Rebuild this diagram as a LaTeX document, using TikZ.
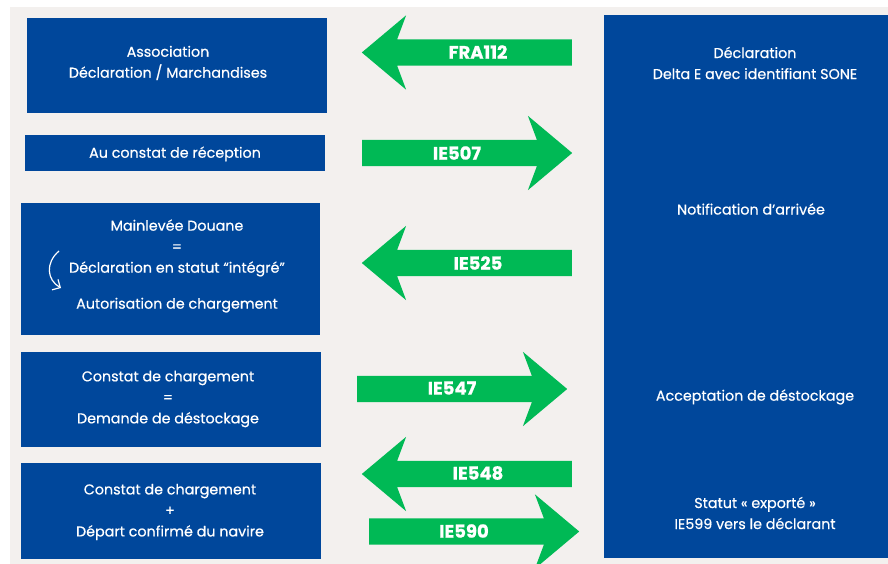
\documentclass[tikz,border=0pt]{standalone}
\usepackage{fontspec}
\setmainfont{Poppins}
\newfontfamily\medfont[FakeBold=0.5]{Poppins}
\newfontfamily\lblfont[BoldFeatures={FakeBold=0.8}]{Poppins}
\usetikzlibrary{shapes.arrows,arrows.meta}
\definecolor{douaneblue}{RGB}{0,71,155}
\definecolor{msggreen}{RGB}{0,185,85}
\definecolor{fond}{RGB}{243,240,238}
\tikzset{
  box/.style={fill=douaneblue, inner sep=0pt},
  boxtext/.style={text=white, align=center, inner sep=0pt,
    font=\medfont\fontsize{14.3}{21}\selectfont},
  msg/.style={single arrow, fill=msggreen, inner xsep=0pt, inner ysep=13pt,
    minimum height=210pt,
    single arrow head extend=24pt, single arrow tip angle=80,
    single arrow head indent=9pt, anchor=tail},
  msgleft/.style={msg, shape border rotate=180},
  msglabel/.style={text=white, inner sep=0pt,
    font=\lblfont\fontsize{18}{18}\selectfont\bfseries}
}
\begin{document}
\begin{tikzpicture}[x=1pt,y=-1pt]
	\clip (0,0) rectangle (888,564);
	\fill[white] (0,0) rectangle (888,564);
	\fill[fond] (10,7) rectangle (888,564);

	% cote operateur
	\node[box, minimum width=300pt, minimum height=95pt] (assoc) at (177,65.5) {};
	\node[box, minimum width=300pt, minimum height=36pt] (recep) at (175,153) {};
	\node[box, minimum width=299pt, minimum height=132pt] (mainlevee) at (170.5,269) {};
	\node[box, minimum width=300pt, minimum height=95pt] (charg) at (171,399.5) {};
	\node[box, minimum width=300pt, minimum height=96pt] (depart) at (171,511) {};

	\node[boxtext] (tassoc) at (168,63) {Association\\Déclaration / Marchandises};
	\node[boxtext] (trecep) at (175,154) {Au constat de réception};
	\node[boxtext] (tmain) at (177,266) {Mainlevée Douane\\=\\Déclaration en statut “intégré”\\[15pt]Autorisation de chargement};
	\node[boxtext] (tcharg) at (168,399) {Constat de chargement\\=\\Demande de déstockage};
	\node[boxtext] (tdepart) at (170,512) {Constat de chargement\\+\\Départ confirmé du navire};

	\coordinate (courbeA) at (59,251);
	\coordinate (courbeB) at (61,288);
	\draw[white, line width=1.2pt, -{Straight Barb[length=6pt,width=12pt]}] (courbeA) .. controls (45,263) and (47,280) .. (courbeB);

	% cote douane
	\node[box, minimum width=302pt, minimum height=543pt] (delta) at (755,286.5) {};
	\node[boxtext] (tdecl) at (755,63) {Déclaration\\Delta E avec identifiant SONE};
	\node[boxtext] (tnotif) at (751,209) {Notification d’arrivée};
	\node[boxtext] (taccept) at (755,397) {Acceptation de déstockage};
	\node[boxtext] (tstatut) at (755,513) {Statut «~exporté~»\\IE599 vers le déclarant};

	% messages
	\node[msgleft] (m112) at (572,52.5) {};
	\node[msg] (m507) at (362,153) {};
	\node[msgleft] (m525) at (572,263) {};
	\node[msg] (m547) at (357,389) {};
	\node[msgleft] (m548) at (572,474) {};
	\node[msg] (m590) at (369,531.5) {};

	\node[msglabel] (l112) at (478,52) {FRA112};
	\node[msglabel] (l507) at (457,153) {IE507};
	\node[msglabel] (l525) at (478,263) {IE525};
	\node[msglabel] (l547) at (452,388) {IE547};
	\node[msglabel] (l548) at (478,473) {IE548};
	\node[msglabel] (l590) at (464,531) {IE590};
\end{tikzpicture}
\end{document}
